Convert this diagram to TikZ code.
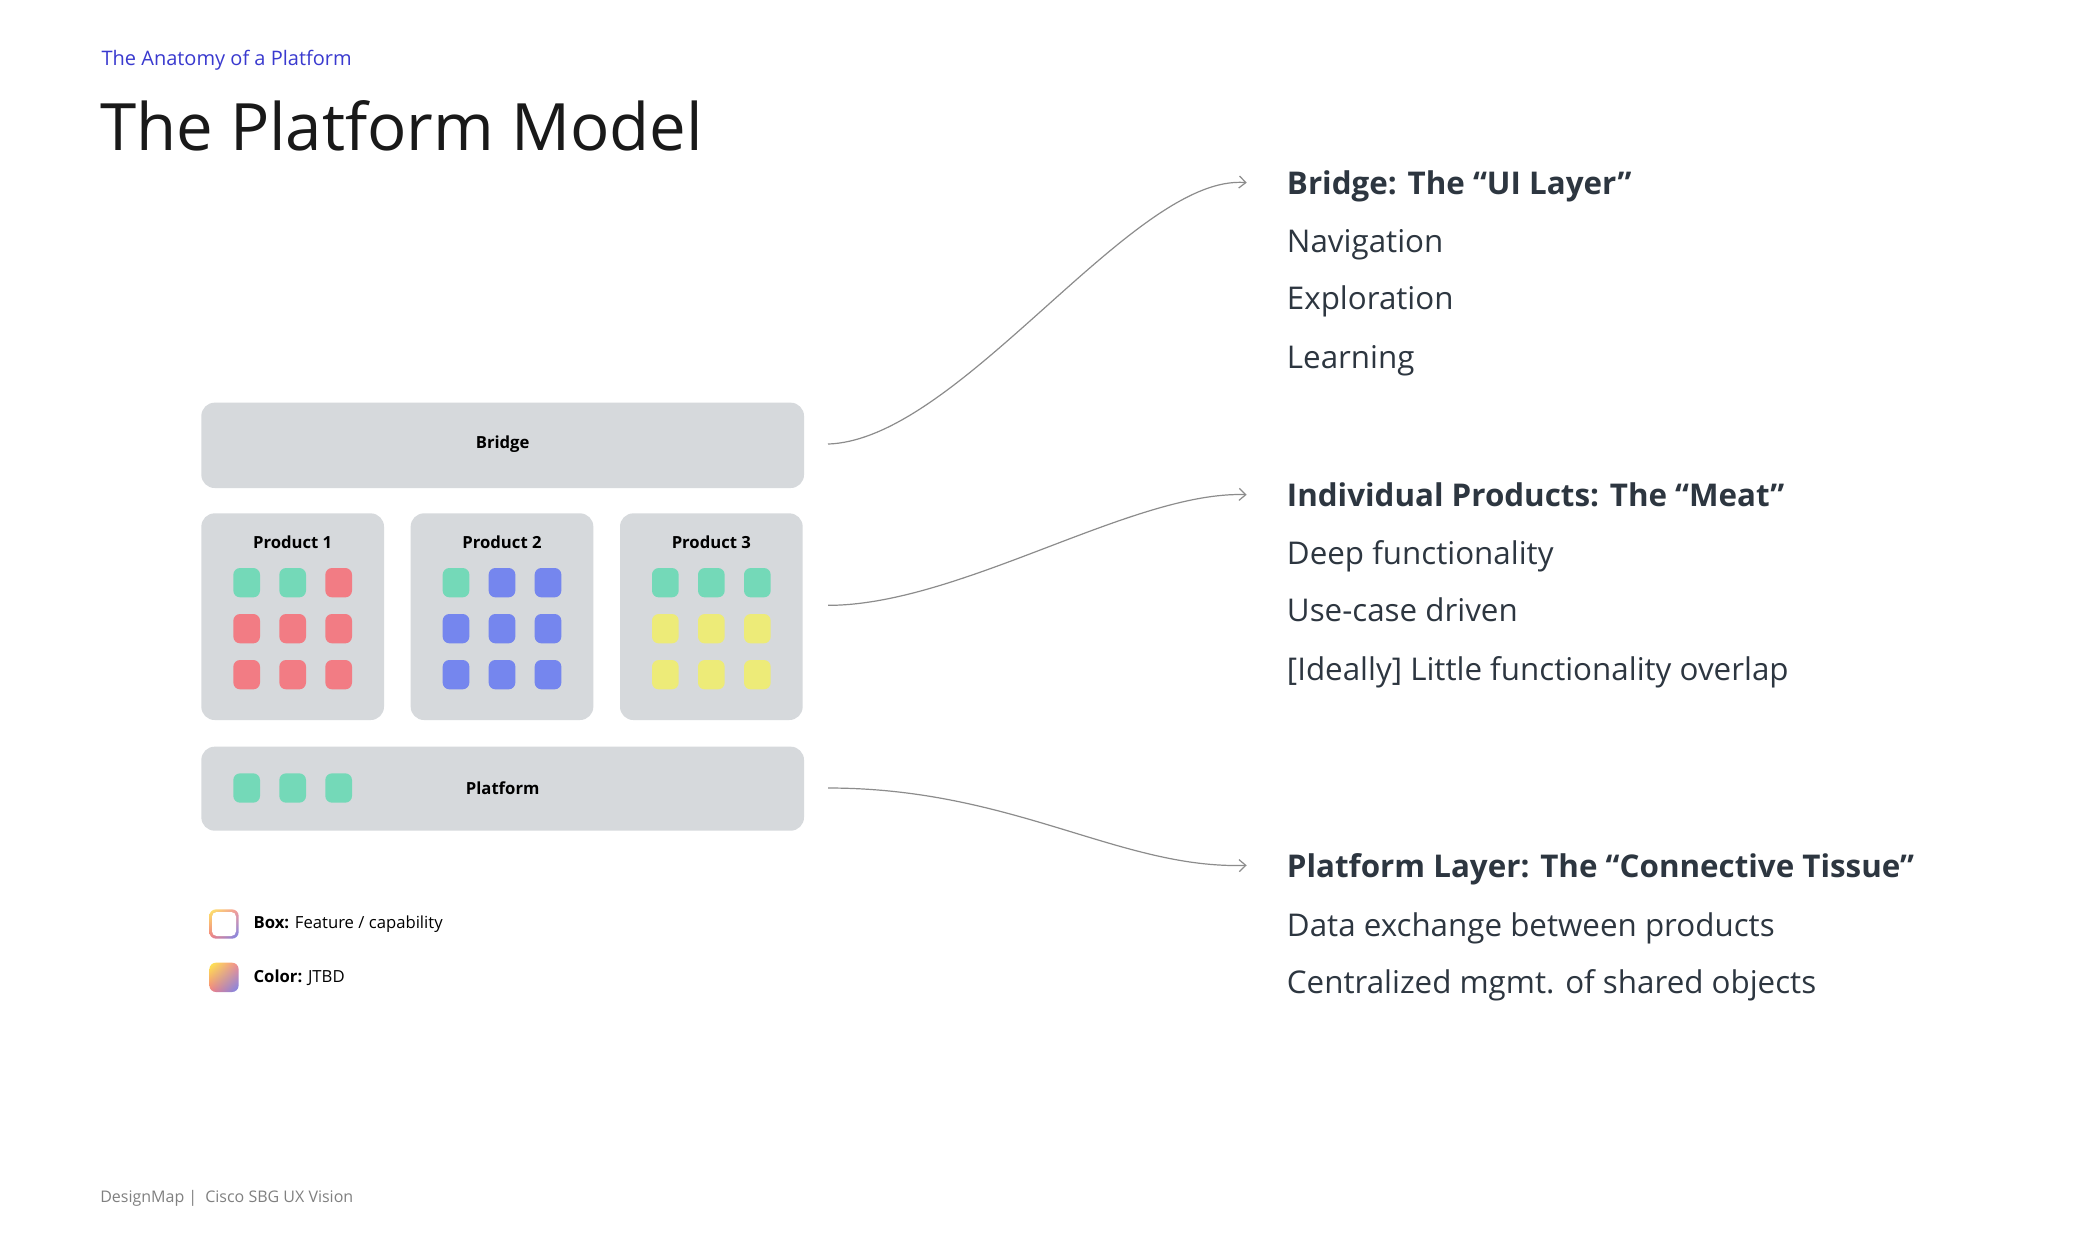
\documentclass[tikz,border=0pt]{standalone}
\usepackage{fontspec}
\setmainfont{Open Sans}
\usepackage{xcolor}
\usetikzlibrary{arrows.meta,shadings}
\definecolor{boxgray}{HTML}{D6D9DC}
\definecolor{tealsq}{HTML}{74D9B8}
\definecolor{redsq}{HTML}{F27C84}
\definecolor{bluesq}{HTML}{7586EE}
\definecolor{yelsq}{HTML}{EDEB78}
\definecolor{inktext}{HTML}{2D3640}
\definecolor{subblue}{HTML}{3A3ACF}
\tikzset{
  panel/.style={fill=boxgray, draw=none, rounded corners=10pt},
  sq/.style={rounded corners=5pt, draw=none},
  boxlabel/.style={font=\fontsize{12.5}{14}\selectfont\bfseries, text=black},
  head/.style={anchor=base west, inner sep=0pt, text=inktext, font=\fontsize{23.5}{28}\selectfont\bfseries},
  item/.style={anchor=base west, inner sep=0pt, text=inktext, font=\fontsize{23.5}{28}\selectfont},
  link/.style={draw=gray!90, line width=0.9pt, -{Straight Barb[length=5pt,width=9pt]}}
}
\newcommand{\feat}[3]{\fill[sq,#3] (#1-10,#2-11) rectangle (#1+10,#2+11);}
\begin{document}
\begin{tikzpicture}[x=1pt,y=1pt,yscale=-1]
\useasboundingbox[fill=white] (0,0) rectangle (1560,930);
% Header
\node[anchor=west, inner sep=0pt, text=subblue, font=\fontsize{15}{18}\selectfont] (kicker) at (76,45) {The Anatomy of a Platform};
\node[anchor=base west, inner sep=0pt, text=black!90, font=\fontsize{49}{56}\selectfont] (title) at (75,113) {The Platform Model};
% Layers
\fill[panel] (151,302) rectangle (603,366);
\node[boxlabel] (bridge) at (377,333) {Bridge};
\foreach \x/\n in {151/1,308/2,465/3}{
  \fill[panel] (\x,385) rectangle (\x+137,540);
  \node[boxlabel] (prod\n) at (\x+68.5,407) {Product \n};
}
\fill[panel] (151,560) rectangle (603,623);
\node[boxlabel] (platform) at (377,591) {Platform};
% Features
\foreach \c [count=\i from 0] in {tealsq,tealsq,redsq,redsq,redsq,redsq,redsq,redsq,redsq}{
  \pgfmathsetmacro{\cx}{185+34.5*mod(\i,3)}
  \pgfmathsetmacro{\cy}{437+34.5*floor(\i/3)}
  \feat{\cx}{\cy}{fill=\c}
}
\foreach \c [count=\i from 0] in {tealsq,bluesq,bluesq,bluesq,bluesq,bluesq,bluesq,bluesq,bluesq}{
  \pgfmathsetmacro{\cx}{342+34.5*mod(\i,3)}
  \pgfmathsetmacro{\cy}{437+34.5*floor(\i/3)}
  \feat{\cx}{\cy}{fill=\c}
}
\foreach \c [count=\i from 0] in {tealsq,tealsq,tealsq,yelsq,yelsq,yelsq,yelsq,yelsq,yelsq}{
  \pgfmathsetmacro{\cx}{499+34.5*mod(\i,3)}
  \pgfmathsetmacro{\cy}{437+34.5*floor(\i/3)}
  \feat{\cx}{\cy}{fill=\c}
}
\foreach \x in {185,219.5,254}{\feat{\x}{591}{fill=tealsq}}
% Legend
\shade[rounded corners=5pt, upper left=yellow!70!orange!60, upper right=redsq!80, lower left=redsq, lower right=bluesq] (157,682) rectangle (179,704);
\fill[white, rounded corners=3.5pt] (159,684) rectangle (177,702);
\shade[rounded corners=5pt, upper left=yellow!80!orange!70, upper right=redsq!90, lower left=redsq, lower right=bluesq] (157,722) rectangle (179,744);
\node[anchor=west, inner sep=0pt, font=\fontsize{12.5}{14}\selectfont] (legbox) at (190,693) {\textbf{Box:} Feature / capability};
\node[anchor=west, inner sep=0pt, font=\fontsize{12.5}{14}\selectfont] (legcol) at (190,733) {\textbf{Color:} JTBD};
% Descriptions
\node[head] (hbridge) at (965,146) {Bridge: The “UI Layer”};
\node[item] at (965,189) {Navigation};
\node[item] at (965,232) {Exploration};
\node[item] at (965,276) {Learning};
\node[head] (hprod) at (965,380) {Individual Products: The “Meat”};
\node[item] at (965,423) {Deep functionality};
\node[item] at (965,466) {Use-case driven};
\node[item] at (965,510) {[Ideally] Little functionality overlap};
\node[head] (hplat) at (965,658) {Platform Layer: The “Connective Tissue”};
\node[item] at (965,702) {Data exchange between products};
\node[item] at (965,745) {Centralized mgmt. of shared objects};
% Connectors
\coordinate (sbridge) at (621,333);
\coordinate (sprod) at (621,454);
\coordinate (splat) at (621,591);
\draw[link] (sbridge) .. controls (720,330) and (850,130) .. ([xshift=-30,yshift=-9]hbridge.base west);
\draw[link] (sprod) .. controls (720,454) and (850,368) .. ([xshift=-30,yshift=-9]hprod.base west);
\draw[link] (splat) .. controls (760,591) and (840,652) .. ([xshift=-30,yshift=-9]hplat.base west);
% Footer
\node[anchor=west, inner sep=0pt, text=gray, font=\fontsize{12}{14}\selectfont] (foot) at (75,899) {DesignMap |\enspace Cisco SBG UX Vision};
\end{tikzpicture}
\end{document}
